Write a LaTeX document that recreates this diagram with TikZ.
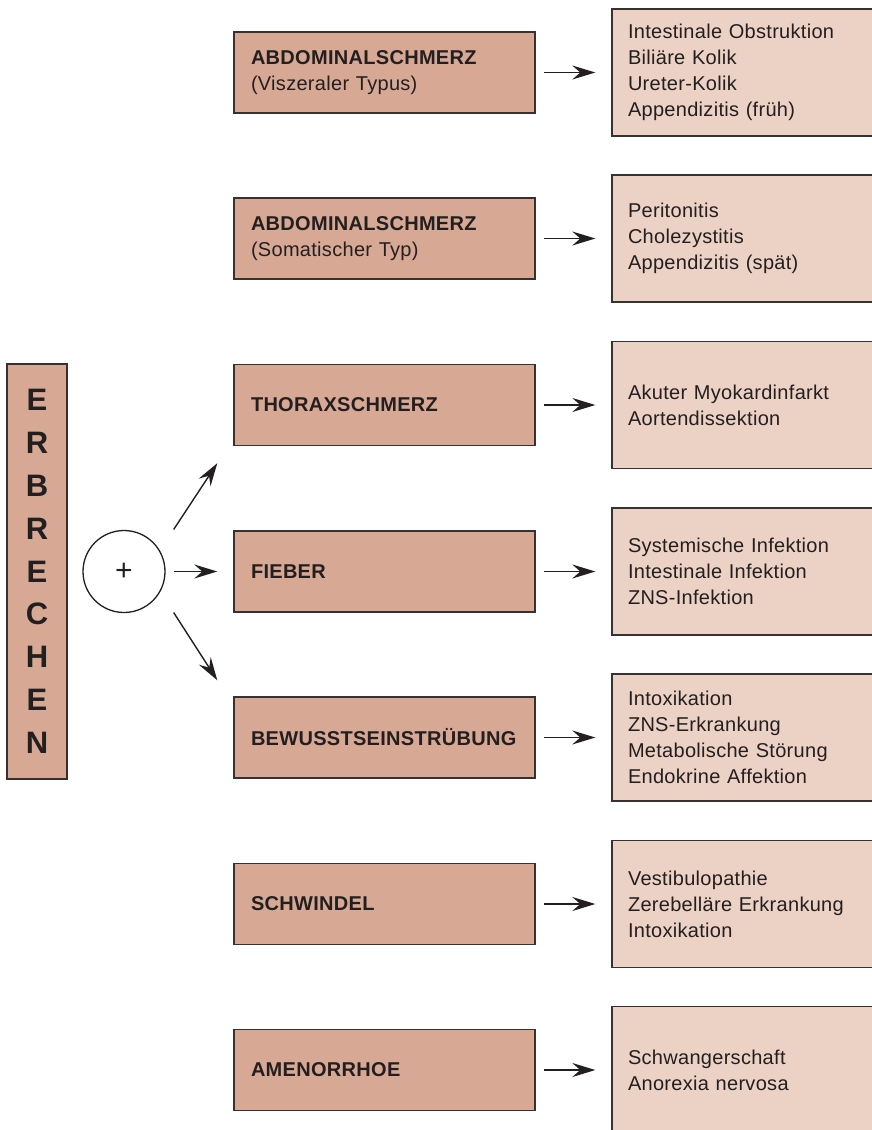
\documentclass[tikz,border=0pt]{standalone}
\usepackage{fontspec}
\setmainfont{Liberation Sans}[LetterSpace=1.5]
\usetikzlibrary{arrows.meta}

\definecolor{leftfill}{RGB}{215,168,148}
\definecolor{rightfill}{RGB}{236,209,197}
\definecolor{framecol}{RGB}{55,50,50}
\definecolor{inkcol}{RGB}{35,31,32}

\tikzset {
  sign style/.style = {
    draw=framecol,
    line width=1.4pt,
    fill=leftfill,
    text=inkcol,
    text width=267pt,
    inner xsep=17pt,
    inner ysep=0pt,
    minimum height=81pt,
    align=left,
    font=\fontsize{20}{26}\selectfont
  },
  cause style/.style = {
    draw=framecol,
    line width=1.4pt,
    fill=rightfill,
    text=inkcol,
    text width=230pt,
    inner xsep=16pt,
    inner ysep=0pt,
    minimum height=127pt,
    align=left,
    font=\fontsize{20}{26}\selectfont
  },
  arr/.style = {
    -{Stealth[length=23pt,width=14pt,inset=8pt]},
    line width=1.4pt,
    draw=inkcol
  }
}

\begin{document}
\begin{tikzpicture}[x=1pt,y=-1pt]

\useasboundingbox (0,0) rectangle (871,1130);

% --- Vomiting bar and plus ---
\node[draw=framecol, line width=1.4pt, fill=leftfill, text=inkcol,
      minimum width=60pt, minimum height=415pt, inner sep=0pt, align=center,
      font=\fontsize{31}{42.8}\selectfont\bfseries]
  (erbrechen) at (37,571.5) {E\\R\\B\\R\\E\\C\\H\\E\\N};

\node[circle, draw=inkcol, line width=1.3pt, minimum size=82pt, inner sep=0pt,
      text=inkcol, font=\fontsize{30}{30}\selectfont]
  (plus) at (124,571.5) {+};

% --- Symptoms ---
\node[sign style] (abdvisz) at (384.5,72.5)
  {\textbf{ABDOMINALSCHMERZ}\\(Viszeraler Typus)};
\node[sign style] (abdsom) at (384.5,238.5)
  {\textbf{ABDOMINALSCHMERZ}\\(Somatischer Typ)};
\node[sign style] (thorax) at (384.5,405) {\textbf{THORAXSCHMERZ}};
\node[sign style] (fieber) at (384.5,571.5) {\textbf{FIEBER}};
\node[sign style] (bewusst) at (384.5,737.5) {\textbf{BEWUSSTSEINSTRÜBUNG}};
\node[sign style] (schwindel) at (384.5,904) {\textbf{SCHWINDEL}};
\node[sign style] (amenor) at (384.5,1070) {\textbf{AMENORRHOE}};

% --- Causes ---
\node[cause style] (cvisz) at (743,72.5)
  {Intestinale Obstruktion\\Biliäre Kolik\\Ureter-Kolik\\Appendizitis (früh)};
\node[cause style] (csom) at (743,238.5)
  {Peritonitis\\Cholezystitis\\Appendizitis (spät)};
\node[cause style] (cthorax) at (743,405)
  {Akuter Myokardinfarkt\\Aortendissektion};
\node[cause style] (cfieber) at (743,571.5)
  {Systemische Infektion\\Intestinale Infektion\\ZNS-Infektion};
\node[cause style] (cbewusst) at (743,737.5)
  {Intoxikation\\ZNS-Erkrankung\\Metabolische Störung\\Endokrine Affektion};
\node[cause style] (cschwindel) at (743,904)
  {Vestibulopathie\\Zerebelläre Erkrankung\\Intoxikation};
\node[cause style] (camenor) at (743,1070)
  {Schwangerschaft\\Anorexia nervosa};

% --- Arrows from the plus ---
\draw[arr] ([shift={(8,-42)}]plus.east) -- ([shift={(-16,17)}]thorax.south west);
\draw[arr, shorten <=8pt, shorten >=16pt] (plus) -- (fieber);
\draw[arr] ([shift={(8,41)}]plus.east) -- ([shift={(-16,-16)}]bewusst.north west);

% --- Arrows to the causes ---
\draw[arr, shorten <=8pt, shorten >=16pt] (abdvisz) -- (cvisz);
\draw[arr, shorten <=8pt, shorten >=16pt] (abdsom) -- (csom);
\draw[arr, shorten <=8pt, shorten >=16pt] (thorax) -- (cthorax);
\draw[arr, shorten <=8pt, shorten >=16pt] (fieber) -- (cfieber);
\draw[arr, shorten <=8pt, shorten >=16pt] (bewusst) -- (cbewusst);
\draw[arr, shorten <=8pt, shorten >=16pt] (schwindel) -- (cschwindel);
\draw[arr, shorten <=8pt, shorten >=16pt] (amenor) -- (camenor);

\end{tikzpicture}
\end{document}
